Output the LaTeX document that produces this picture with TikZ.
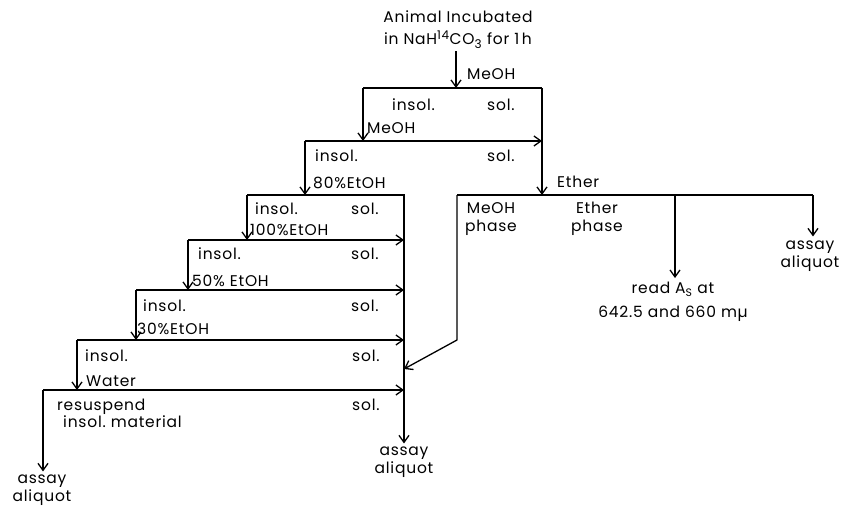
\documentclass[tikz,border=0pt]{standalone}
\usepackage{fontspec}
\setmainfont{Poppins}[LetterSpace=5.0]
\usetikzlibrary{arrows.meta}

\begin{document}
\begin{tikzpicture}[
    x=1pt, y=-1pt,
    font=\fontsize{15.5}{18}\selectfont,
    pipe/.style={line width=1.3pt},
    flow/.style={-{Straight Barb[length=7pt,width=10pt]}, line width=1.3pt},
    lbl/.style={inner sep=0pt, anchor=west},
    stack/.style={inner sep=3pt, align=center}
]
    \useasboundingbox (0,0) rectangle (844,506);

    % extraction ladder: left and right ends of each separation line
    \coordinate (L1) at (363,88);  \coordinate (R1) at (542,88);
    \coordinate (L2) at (305,141); \coordinate (R2) at (542,141);
    \coordinate (L3) at (247,195); \coordinate (R3) at (404,195);
    \coordinate (L4) at (188,240); \coordinate (R4) at (404,240);
    \coordinate (L5) at (136,290); \coordinate (R5) at (404,290);
    \coordinate (L6) at (77,340);  \coordinate (R6) at (404,340);
    \coordinate (L7) at (43,390);  \coordinate (R7) at (404,390);
    \coordinate (top) at (456,88);
    % ether partition
    \coordinate (E1) at (457,195); \coordinate (E2) at (675,195); \coordinate (E3) at (813,195);
    \coordinate (knee) at (457,340); \coordinate (merge) at (404,369);

    \node[stack, inner sep=2pt] (animal) at (458,30) {Animal Incubated\\[4pt]in NaH\textsuperscript{\large 14}CO\textsubscript{\large 3} for 1\,h};
    \node[stack] (aliqL) at (42,490) {assay\\aliquot};
    \node[stack] (aliqM) at (404,462) {assay\\aliquot};
    \node[stack, inner sep=4pt] (aliqR) at (810,256) {assay\\aliquot};
    \node[stack, inner sep=4pt] (read) at (673,302) {read A\textsubscript{S} at\\[6pt]642.5 and 660 mµ};
    \node[stack, inner sep=0pt] (meph) at (491,219) {MeOH\\phase};
    \node[stack, inner sep=0pt] (etph) at (597,219) {Ether\\phase};

    \node[lbl] (sv1) at (467,74) {MeOH};
    \node[lbl] (in1) at (392,105) {insol.};  \node[lbl] (so1) at (487,105) {sol.};
    \node[lbl] (sv2) at (367,128) {MeOH};
    \node[lbl] (in2) at (315,156) {insol.};  \node[lbl] (so2) at (487,156) {sol.};
    \node[lbl] (sv3) at (313,183) {80\%EtOH};
    \node[lbl] (in3) at (255,209) {insol.};  \node[lbl] (so3) at (351,209) {sol.};
    \node[lbl] (sv4) at (250,230) {100\%EtOH};
    \node[lbl] (in4) at (198,254) {insol.};  \node[lbl] (so4) at (351,254) {sol.};
    \node[lbl] (sv5) at (192,281) {50\% EtOH};
    \node[lbl] (in5) at (143,306) {insol.};  \node[lbl] (so5) at (351,306) {sol.};
    \node[lbl] (sv6) at (137,329) {30\%EtOH};
    \node[lbl] (in6) at (85,356) {insol.};   \node[lbl] (so6) at (352,356) {sol.};
    \node[lbl] (sv7) at (86,381) {Water};
    \node[lbl, align=left] (resus) at (57,413) {resuspend\\[-1pt]\hspace*{6pt}insol.\ material};
    \node[lbl] (so7) at (352,405) {sol.};
    \node[lbl] (sv8) at (557,182) {Ether};

    \draw[flow] (animal.south -| top) -- (top);
    \draw[pipe] (L1) -- (R1);
    \draw[flow] (R1) -- (E1 -| R1);
    \draw[flow] (L1) -- (L1 |- L2);
    \draw[flow] (L2) -- (R2);
    \draw[flow] (L2) -- (L2 |- L3);
    \draw[flow] (L3) -- (R3) -- (aliqM.north);
    \draw[flow] (L3) -- (L3 |- L4);
    \draw[flow] (L4) -- (R4);
    \draw[flow] (L4) -- (L4 |- L5);
    \draw[flow] (L5) -- (R5);
    \draw[flow] (L5) -- (L5 |- L6);
    \draw[flow] (L6) -- (R6);
    \draw[flow] (L6) -- (L6 |- L7);
    \draw[flow] (L7) -- (R7);
    \draw[flow] (L7) -- (L7 |- aliqL.north);

    \draw[pipe] (E1) -- (E3);
    \draw[flow] (E1) -- (knee) -- (merge);
    \draw[flow] (E2) -- (E2 |- read.north);
    \draw[flow] (E3) -- (E3 |- aliqR.north);
\end{tikzpicture}
\end{document}
